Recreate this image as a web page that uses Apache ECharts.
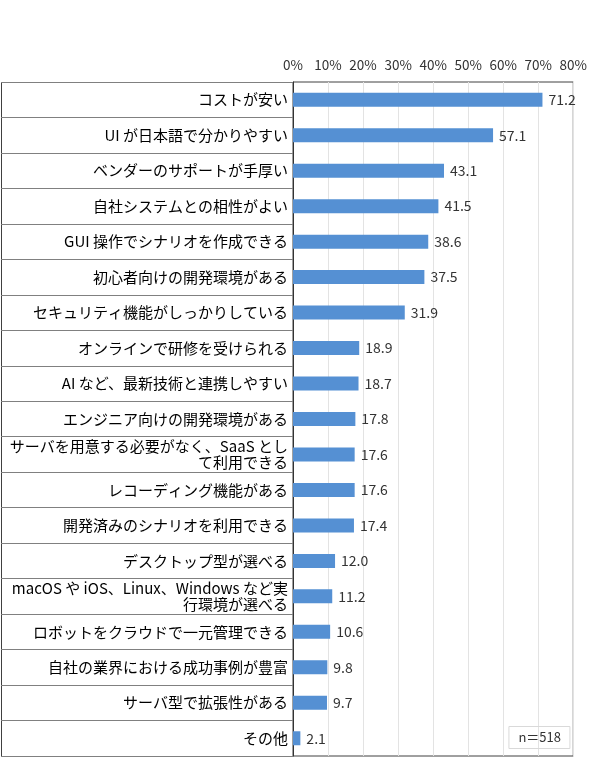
<!DOCTYPE html>
<html>
<head>
<meta charset="utf-8">
<script src="https://cdn.jsdelivr.net/npm/echarts@6/dist/echarts.min.js"></script>
<style>
  html, body { margin: 0; padding: 0; background: #fff; }
  #container { width: 590px; height: 770px; }
</style>
</head>
<body>
<div id="container"></div>
<script>
var categories = [
    'コストが安い',
    'UI が日本語で分かりやすい',
    'ベンダーのサポートが手厚い',
    '自社システムとの相性がよい',
    'GUI 操作でシナリオを作成できる',
    '初心者向けの開発環境がある',
    'セキュリティ機能がしっかりしている',
    'オンラインで研修を受けられる',
    'AI など、最新技術と連携しやすい',
    'エンジニア向けの開発環境がある',
    'サーバを用意する必要がなく、SaaS とし\nて利用できる',
    'レコーディング機能がある',
    '開発済みのシナリオを利用できる',
    'デスクトップ型が選べる',
    'macOS や iOS、Linux、Windows など実\n行環境が選べる',
    'ロボットをクラウドで一元管理できる',
    '自社の業界における成功事例が豊富',
    'サーバ型で拡張性がある',
    'その他'
];
var values = [71.2, 57.1, 43.1, 41.5, 38.6, 37.5, 31.9, 18.9, 18.7, 17.8, 17.6, 17.6, 17.4, 12.0, 11.2, 10.6, 9.8, 9.7, 2.1];
var sampleText = 'n＝518';

var gridLeft = 293, gridRight = 14, gridTop = 82, gridBottom = 14;
var font = '"Noto Sans CJK JP", "Noto Sans", sans-serif';

var dom = document.getElementById('container');
var myChart = echarts.init(dom, null, { renderer: 'canvas' });

var option = {
    animation: false,
    textStyle: { fontFamily: font },
    title: {
        text: sampleText,
        right: 20,
        bottom: 21,
        padding: [5, 9, 5, 10],
        borderColor: '#d9d9d9',
        borderWidth: 1,
        textStyle: { fontSize: 13, fontWeight: 'normal', color: '#333', fontFamily: font }
    },
    grid: {
        left: gridLeft, right: gridRight, top: gridTop, bottom: gridBottom,
        show: true,
        borderColor: '#404040',
        borderWidth: 1
    },
    xAxis: {
        type: 'value',
        position: 'top',
        min: 0,
        max: 80,
        interval: 10,
        axisLine: { show: false },
        axisTick: { show: false },
        axisLabel: { formatter: '{value}%', fontSize: 13.5, color: '#333', margin: 10 },
        splitLine: { show: true, lineStyle: { color: '#e3e3e3' } }
    },
    yAxis: {
        type: 'category',
        inverse: true,
        data: categories,
        axisLine: { show: true, lineStyle: { color: '#333' } },
        axisTick: { show: true, length: gridLeft - 1, lineStyle: { color: '#808080' } },
        axisLabel: { fontSize: 15, color: '#000', margin: 5, lineHeight: 16 }
    },
    series: [{
        type: 'bar',
        data: values,
        barWidth: 14,
        itemStyle: { color: '#5590d3' },
        label: {
            show: true,
            position: 'right',
            distance: 6,
            fontSize: 14,
            color: '#333',
            formatter: function (p) { return p.value.toFixed(1); }
        }
    }],
    graphic: [{
        type: 'line',
        shape: { x1: 1.5, y1: gridTop, x2: 1.5, y2: 770 - gridBottom },
        style: { stroke: '#404040', lineWidth: 1 }
    }]
};

myChart.setOption(option);
window.addEventListener('resize', myChart.resize);
</script>
</body>
</html>
